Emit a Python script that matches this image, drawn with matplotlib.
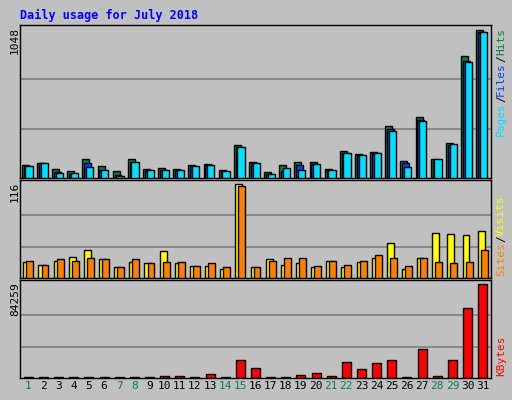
import matplotlib
matplotlib.use("Agg")
import matplotlib.pyplot as plt
import numpy as np

days = list(range(1, 32))
hits = [90,105,62,48,136,83,48,136,62,71,62,90,98,55,233,112,40,90,112,112,62,190,169,183,369,119,433,136,248,862,1048]
files = [83,105,40,31,105,55,19,112,55,55,55,83,90,48,219,105,26,48,90,98,55,176,162,176,348,105,412,126,233,833,1033]
pages = [83,105,33,33,76,55,12,112,55,55,55,83,90,48,219,105,26,69,55,98,55,176,162,176,333,76,405,136,240,819,1033]
visits = [20,16,21,26,34,24,14,20,18,33,18,15,15,11,116,14,23,16,19,14,21,14,20,25,43,11,25,55,54,53,58]
sites = [21,16,23,21,25,23,14,23,18,20,20,15,18,13,113,13,21,25,25,15,21,16,21,28,25,15,25,20,18,20,34]
kbytes = [600,600,600,600,600,600,600,600,600,2150,2150,600,4000,600,16000,8600,600,600,3100,4900,2150,14100,7700,13200,16000,600,26100,2150,16000,63000,84259]
weekend = {1,7,8,14,15,21,22,28,29}

W, H = 512, 400
fig = plt.figure(figsize=(W/100, H/100), dpi=100, facecolor="#c0c0c0")
mono = "DejaVu Sans Mono"

def ax_at(x0, y0, x1, y1):
    a = fig.add_axes([x0/W, 1-y1/H, (x1-x0)/W, (y1-y0)/H])
    a.set_facecolor("#c0c0c0")
    a.set_xlim(0.45, 31.55)
    a.set_xticks([]); a.set_yticks([])
    for s in a.spines.values():
        s.set_color("black"); s.set_linewidth(1)
    return a

d = np.array(days)
ek = dict(edgecolor="black", linewidth=1)

a1 = ax_at(20, 25, 491, 178)
mx = max(hits)
a1.set_ylim(0, mx*1.035)
for g in (mx/3, 2*mx/3):
    a1.axhline(g, color="#808080", lw=1.2, zorder=0)
a1.bar(d-0.2, hits, 0.46, color="#008040", **ek, zorder=2)
a1.bar(d-0.08, files, 0.46, color="#0040ff", **ek, zorder=3)
a1.bar(d+0.05, pages, 0.48, color="#00e0ff", **ek, zorder=4)

a2 = ax_at(20, 180, 491, 278)
mx2 = max(visits)
a2.set_ylim(0, mx2*1.04)
for g in (mx2/3, 2*mx2/3):
    a2.axhline(g, color="#808080", lw=1.2, zorder=0)
a2.bar(d-0.1, visits, 0.46, color="#ffff00", **ek, zorder=2)
a2.bar(d+0.1, sites, 0.46, color="#ff8000", **ek, zorder=3)

a3 = ax_at(20, 280, 491, 378)
mx3 = max(kbytes)
a3.set_ylim(0, mx3*1.04)
for g in (mx3/3, 2*mx3/3):
    a3.axhline(g, color="#808080", lw=1.2, zorder=0)
a3.bar(d, kbytes, 0.6, color="#ff0000", **ek, zorder=2)
for day in days:
    a3.text(day, -0.035, str(day), transform=a3.get_xaxis_transform(), ha="center", va="top",
            fontsize=8, family=mono, color="#00805c" if day in weekend else "black")

fig.text(20/W, 1-15/H, "Daily usage for July 2018", color="#0000ff", fontsize=8.5,
         family=mono, weight="bold", va="center", ha="left")
for y, t in ((25, "1048"), (180, "116"), (280, "84259")):
    fig.text(15/W, 1-(y+2)/H, t, rotation=90, ha="center", va="top", fontsize=8, family=mono)

renderer = fig.canvas.get_renderer()
def rlabel(ybottom, parts):
    y = ybottom
    for txt, col in parts:
        t = fig.text(501/W, 1-y/H, txt, rotation=90, ha="center", va="bottom", fontsize=8,
                     family=mono, color=col)
        bb = t.get_window_extent(renderer)
        y -= bb.height
rlabel(136, [("Pages", "#00e0ff"), ("/", "black"), ("Files", "#0040ff"), ("/", "black"), ("Hits", "#008040")])
rlabel(276, [("Sites", "#ff8000"), ("/", "black"), ("Visits", "#ffff00")])
rlabel(376, [("KBytes", "#ff0000")])

fig.savefig("out.png", dpi=100, facecolor=fig.get_facecolor())
